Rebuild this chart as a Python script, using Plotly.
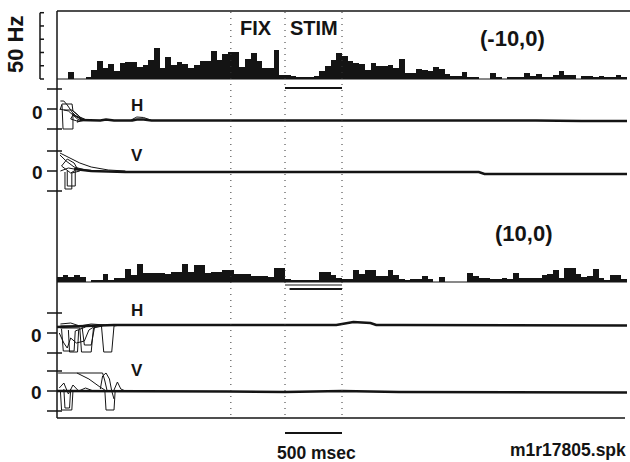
import plotly.graph_objects as go

# ---------------- data ----------------
BIN_MS = 50
# spike-density histograms (Hz), 50 ms bins from 0 to 5000 ms
hist_m10_hz = [0, 0, 5.3, 0, 0, 1.5, 6.8, 13.6, 8.3, 11.4,
               6.1, 12.1, 12.9, 12.9, 9.1, 10.6, 14.4, 23.5, 8.3, 16.7,
               10.6, 12.9, 11.4, 8.3, 10.6, 13.6, 13.6, 21.2, 14.4, 19.0,
               20.5, 20.5, 9.1, 15.2, 19.7, 13.6, 8.3, 8.3, 22.0, 3.0,
               3.0, 2.3, 1.5, 1.5, 0.8, 2.3, 6.1, 9.9, 14.4, 19.7,
               17.4, 13.6, 12.1, 11.4, 6.8, 12.1, 9.9, 9.9, 10.6, 8.3,
               15.2, 4.5, 4.5, 7.6, 6.8, 6.1, 9.1, 7.6, 3.8, 2.3,
               2.3, 5.3, 1.5, 0.8, 0, 0, 4.5, 1.5, 0, 0.8,
               1.5, 1.5, 4.5, 2.3, 3.8, 0.8, 0.8, 3.0, 6.1, 3.0,
               3.0, 0, 2.3, 2.3, 1.5, 2.3, 1.5, 0.8, 3.0, 1.5]
hist_p10_hz = [3.8, 5.3, 3.8, 5.3, 3.8, 0, 0.8, 1.5, 6.1, 1.5,
               3.0, 3.0, 9.9, 5.3, 13.6, 6.8, 6.8, 6.8, 6.8, 6.1,
               7.6, 7.6, 13.6, 7.6, 12.9, 12.9, 6.8, 7.6, 7.6, 9.1,
               9.1, 6.1, 6.1, 6.1, 4.5, 4.5, 4.5, 3.8, 10.6, 10.6,
               2.3, 0.8, 1.5, 0.8, 0.8, 0.8, 7.6, 7.6, 5.3, 3.0,
               2.3, 2.3, 9.1, 6.1, 9.1, 9.1, 4.5, 4.5, 9.1, 5.3,
               2.3, 1.5, 2.3, 2.3, 4.5, 2.3, 0, 3.8, 0, 0,
               0, 0, 6.8, 4.5, 3.0, 3.0, 2.3, 2.3, 3.0, 2.3,
               6.8, 3.0, 3.0, 3.0, 3.0, 5.3, 6.1, 9.1, 3.0, 10.6,
               10.6, 6.1, 3.8, 4.5, 9.9, 3.0, 1.5, 5.3, 5.3, 2.3]

event_lines_ms = [1525, 2000, 2500]
stim_on_ms = 2000
stim_off_ms = 2500
time_scale_ms = [2000, 2500]   # 500 msec scale bar
rate_scale_ticks_hz = [0, 10, 20, 30, 40, 50]
eye_scale_ticks_deg = [-20, 0, 20]

# eye position traces (deg) - target (-10,0)
h1_mean_t = [200, 380, 430, 500, 660, 700, 760, 830, 900, 2000, 2600, 3000, 4200, 4600, 5000]
h1_mean_v = [-11, -11.5, -10.5, -11.5, -11.5, -10.5, -10.5, -11.5, -11.5, -11.5, -11, -11.5, -11.5, -12, -12]
h1_trials_t = [[26, 44, 132, 140, 200, 260],
               [44, 53, 53, 140, 140, 175, 230],
               [60, 130, 175, 210, 175, 120, 140, 228, 300],
               [26, 100, 200, 175, 250],
               [30, 60, 90, 150, 250],
               [650, 700, 760, 820]]
h1_trials_v = [[-1, 5, 5, -2, -8, -11],
               [4, -19, -20, -20, -4, -8, -11],
               [-1, -1, -5, -9, -12, -10, -6, -11, -11],
               [0, -2, -12, -13, -11],
               [8, 8, 4, -6, -11],
               [-11, -8, -8.5, -11]]

v1_mean_t = [150, 300, 450, 600, 1500, 2500, 3700, 3750, 4200, 5000]
v1_mean_v = [2, 0, -0.5, -1, -1, -1, -1, -3, -3, -3]
v1_trials_t = [[26, 100, 200, 300, 450, 600],
               [26, 80, 150, 250, 350],
               [70, 70, 130, 130, 200],
               [40, 90, 150, 180, 120, 60, 40],
               [30, 100, 200, 300],
               [90, 90, 160, 160]]
v1_trials_v = [[18, 14, 8, 4, 1, 0],
               [16, 10, 4, 1, 0],
               [-1, -18, -18, -2, 0],
               [5, 12, 8, 2, -2, 3, 5],
               [0, 3, 1, 0],
               [0, -15, -15, 0]]

# eye position traces (deg) - target (10,0)
h2_mean_t = [0, 300, 500, 2450, 2550, 2600, 2750, 2800, 3000, 5000]
h2_mean_v = [6, 7, 8, 8, 10, 11, 10, 8, 8, 7.5]
h2_trials_t = [[30, 390, 410, 480, 500, 560],
               [30, 200, 215, 300, 320, 400],
               [40, 55, 150, 160, 250],
               [20, 60, 90, 120, 170, 240, 280, 350],
               [30, 120, 200, 300, 420],
               [220, 240, 300, 330],
               [100, 110, 180, 190]]
h2_trials_v = [[7, 7, -19, -19, 7, 8],
               [5, 5, -19, -19, 5, 7],
               [4, -18, -18, 2, 6],
               [0, -10, -15, -5, -10, -8, 3, 8],
               [9, 10, 7, 9, 8],
               [6, -12, -12, 6],
               [3, -19, -19, 3]]

v2_mean_t = [0, 700, 1500, 2000, 2500, 3000, 3500, 4000, 4500, 5000]
v2_mean_v = [0, 0, -0.5, -1, 0, -1, -1, -1.5, -1, -1.5]
v2_trials_t = [[10, 400, 420, 440],
               [175, 280, 377, 420],
               [380, 400, 430, 460, 480, 500],
               [30, 40, 130, 140],
               [420, 430, 500, 510],
               [500, 530, 560, 600],
               [20, 60, 100, 140, 190, 250, 320],
               [60, 70, 110, 120]]
v2_trials_v = [[18, 18, 10, 0],
               [18, 12, 4, 1],
               [2, 15, 18, 12, 0, -8],
               [0, -19, -19, 0],
               [0, -19, -19, 0],
               [1, 9, 2, 0],
               [3, 8, -3, 6, 0, 3, 0],
               [2, -17, -17, 2]]

# ---------------- layout constants (pixels) ----------------
W, H = 630, 462
X0_PX, X1_PX = 57, 627
T_MAX = 5000
INK = "#141414"
FONT = "Liberation Sans, Arial, sans-serif"


def py(y):
    return 1 - y / H


def pxx(x):
    return x / W


HZ_PPU = 66.3 / 50
panels = {
    "y":  dict(zero=79, ppu=HZ_PPU, top=10, bot=86),
    "y2": dict(zero=109, ppu=1.0, top=84, bot=136),
    "y3": dict(zero=171, ppu=1.0, top=146, bot=198),
    "y4": dict(zero=282, ppu=HZ_PPU, top=210, bot=297),
    "y5": dict(zero=333, ppu=1.0, top=305, bot=360),
    "y6": dict(zero=391, ppu=1.0, top=364, bot=417),
}

fig = go.Figure()

bin_centers = [BIN_MS * (i + 0.5) for i in range(len(hist_m10_hz))]
for yname, vals in (("y", hist_m10_hz), ("y4", hist_p10_hz)):
    fig.add_trace(go.Bar(x=bin_centers, y=vals, width=BIN_MS, yaxis=yname,
                         marker=dict(color=INK, line=dict(width=0)),
                         showlegend=False, hoverinfo="skip"))

eye_sets = [("y2", h1_trials_t, h1_trials_v, h1_mean_t, h1_mean_v),
            ("y3", v1_trials_t, v1_trials_v, v1_mean_t, v1_mean_v),
            ("y5", h2_trials_t, h2_trials_v, h2_mean_t, h2_mean_v),
            ("y6", v2_trials_t, v2_trials_v, v2_mean_t, v2_mean_v)]
for yname, tt, vv, mt, mv in eye_sets:
    for t, v in zip(tt, vv):
        fig.add_trace(go.Scatter(x=t, y=v, yaxis=yname, mode="lines",
                                 line=dict(color=INK, width=1),
                                 showlegend=False, hoverinfo="skip"))
    fig.add_trace(go.Scatter(x=mt, y=mv, yaxis=yname, mode="lines",
                             line=dict(color=INK, width=2.6),
                             showlegend=False, hoverinfo="skip"))

layout = dict(
    width=W, height=H, margin=dict(l=0, r=0, t=0, b=0),
    paper_bgcolor="white", plot_bgcolor="rgba(0,0,0,0)",
    barmode="overlay", bargap=0, showlegend=False,
    xaxis=dict(domain=[pxx(X0_PX), pxx(X1_PX)], range=[0, T_MAX],
               visible=False, fixedrange=True),
)
for yname, p in panels.items():
    key = "yaxis" if yname == "y" else "yaxis" + yname[1:]
    layout[key] = dict(domain=[py(p["bot"]), py(p["top"])],
                       range=[-(p["bot"] - p["zero"]) / p["ppu"],
                              (p["zero"] - p["top"]) / p["ppu"]],
                       visible=False, anchor="x", fixedrange=True)
fig.update_layout(**layout)

shapes = []
line = dict(color=INK, width=1.5)
# frame
shapes.append(dict(type="line", xref="paper", yref="paper",
                   x0=pxx(57), x1=pxx(57), y0=py(11), y1=py(418), line=line))
shapes.append(dict(type="line", xref="paper", yref="paper",
                   x0=pxx(57), x1=pxx(630), y0=py(11), y1=py(11), line=line))
shapes.append(dict(type="line", xref="paper", yref="paper",
                   x0=pxx(57), x1=pxx(625), y0=py(418), y1=py(418), line=line))
# histogram baselines
for yname in ("y", "y4"):
    shapes.append(dict(type="line", xref="paper", yref=yname,
                       x0=pxx(57), x1=pxx(627), y0=0, y1=0,
                       line=dict(color=INK, width=1.2)))
# event lines
for t in event_lines_ms:
    shapes.append(dict(type="line", xref="x", yref="paper", x0=t, x1=t,
                       y0=py(12), y1=py(418),
                       line=dict(color="#333333", width=1, dash="1px,5px")))
# stimulus bars
shapes.append(dict(type="line", xref="x", yref="paper", x0=stim_on_ms, x1=stim_off_ms,
                   y0=py(88), y1=py(88), line=dict(color=INK, width=2)))
shapes.append(dict(type="line", xref="x", yref="paper", x0=stim_on_ms, x1=stim_off_ms,
                   y0=py(285), y1=py(285), line=dict(color=INK, width=1)))
shapes.append(dict(type="line", xref="x", yref="paper", x0=stim_on_ms + 40, x1=stim_off_ms,
                   y0=py(289), y1=py(289), line=dict(color=INK, width=2)))
# 500 msec time scale bar
shapes.append(dict(type="line", xref="x", yref="paper", x0=time_scale_ms[0], x1=time_scale_ms[1],
                   y0=py(433), y1=py(433), line=dict(color=INK, width=2)))
# 50 Hz scale bar
shapes.append(dict(type="line", xref="paper", yref="y", x0=pxx(40), x1=pxx(40),
                   y0=rate_scale_ticks_hz[0], y1=rate_scale_ticks_hz[-1], line=line))
for v in rate_scale_ticks_hz:
    shapes.append(dict(type="line", xref="paper", yref="y", x0=pxx(40), x1=pxx(44),
                       y0=v, y1=v, line=line))
# eye position scale ticks
for yname in ("y2", "y3", "y5", "y6"):
    for v in eye_scale_ticks_deg:
        shapes.append(dict(type="line", xref="paper", yref=yname,
                           x0=pxx(47), x1=pxx(57 if v == 0 else 62), y0=v, y1=v,
                           line=line))
fig.update_layout(shapes=shapes)


def txt(s, x, y, size, angle=0):
    return dict(text=s, x=pxx(x), y=py(y), xref="paper", yref="paper",
                showarrow=False, textangle=angle, xanchor="center", yanchor="middle",
                font=dict(family=FONT, size=size, color=INK, weight="bold"))


annotations = [
    txt("50 Hz", 16, 45, 22, -90),
    txt("FIX", 256, 28, 20),
    txt("STIM", 314, 28, 20),
    txt("(-10,0)", 512, 39, 22),
    txt("(10,0)", 523, 234, 22),
    txt("H", 137, 105, 17),
    txt("V", 137, 155, 17),
    txt("H", 137, 310, 17),
    txt("V", 137, 370, 17),
    txt("0", 37, 112, 19),
    txt("0", 37, 172, 19),
    txt("0", 36, 335, 19),
    txt("0", 36, 392, 19),
    txt("500 msec", 316, 453, 17.5),
    txt("m1r17805.spk", 568, 450, 17.5),
]
fig.update_layout(annotations=annotations)

fig.write_html("out.html")
